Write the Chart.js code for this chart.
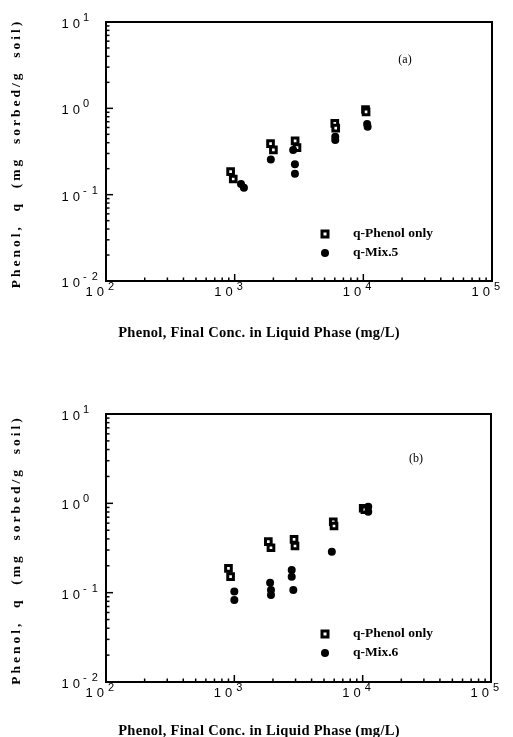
<!DOCTYPE html>
<html>
<head>
<meta charset="utf-8">
<script src="https://cdn.jsdelivr.net/npm/chart.js@4.4.1/dist/chart.umd.min.js"></script>
<style>
  html, body { margin: 0; padding: 0; background: #fff; }
  #wrap { position: relative; width: 513px; height: 737px; }
  canvas { position: absolute; left: 0; }
</style>
</head>
<body>
<div id="wrap">
  <canvas id="chartA" style="top:0px" width="513" height="368"></canvas>
  <canvas id="chartB" style="top:368px" width="513" height="369"></canvas>
</div>
<script>
// axis ticks (log decades) and their exponent labels
const xDecades = [100, 1000, 10000, 100000];
const xExpLabels = ['2', '3', '4', '5'];
const yDecades = [0.01, 0.1, 1, 10];
const yExpLabels = ['- 2', '- 1', '0', '1'];

const xTitle = 'Phenol, Final Conc. in Liquid Phase (mg/L)';
const yTitle = 'Phenol,  q  (mg  sorbed/g  soil)';

// panel (a)
const concA_phenol = [930, 975, 1900, 2000, 2950, 3050, 6000, 6100, 10400, 10500];
const qA_phenol = [0.185, 0.152, 0.39, 0.33, 0.42, 0.35, 0.67, 0.59, 0.97, 0.91];
const concA_mix = [1120, 1180, 1910, 2850, 2940, 2940, 6050, 6050, 10700, 10800];
const qA_mix = [0.133, 0.12, 0.255, 0.33, 0.225, 0.175, 0.47, 0.43, 0.66, 0.61];

// panel (b)
const concB_phenol = [900, 935, 1840, 1930, 2920, 2970, 5900, 5980, 10100, 10400];
const qB_phenol = [0.187, 0.151, 0.372, 0.318, 0.395, 0.333, 0.622, 0.557, 0.88, 0.85];
const concB_mix = [1000, 1000, 1900, 1930, 1930, 2800, 2800, 2880, 5750, 11050, 11050];
const qB_mix = [0.103, 0.083, 0.129, 0.107, 0.094, 0.179, 0.151, 0.107, 0.287, 0.917, 0.806];

const toPoints = (xs, ys) => xs.map((x, i) => ({ x: x, y: ys[i] }));

// frame, inward ticks, labels, titles and legend
const decorPlugin = {
  id: 'decor',
  afterDraw(chart, args, opts) {
    const ctx = chart.ctx;
    const a = chart.chartArea;
    const xs = chart.scales.x;
    const ys = chart.scales.y;
    ctx.save();
    ctx.strokeStyle = '#000';
    ctx.fillStyle = '#000';

    // frame
    ctx.lineWidth = 2;
    ctx.strokeRect(a.left, a.top, a.right - a.left, a.bottom - a.top);

    // minor/major ticks
    ctx.lineWidth = 1.5;
    for (let d = 0; d < xDecades.length - 1; d++) {
      for (let m = 1; m <= 9; m++) {
        const px = xs.getPixelForValue(m * xDecades[d]);
        const len = m === 1 ? 7 : 3.5;
        ctx.beginPath();
        ctx.moveTo(px, a.bottom);
        ctx.lineTo(px, a.bottom - len);
        ctx.stroke();
      }
    }
    for (let d = 0; d < yDecades.length - 1; d++) {
      for (let m = 1; m <= 9; m++) {
        const py = ys.getPixelForValue(m * yDecades[d]);
        const len = m === 1 ? 7 : 3.5;
        ctx.beginPath();
        ctx.moveTo(a.left, py);
        ctx.lineTo(a.left + len, py);
        ctx.stroke();
      }
    }

    // tick labels  10^n
    ctx.textBaseline = 'alphabetic';
    xDecades.forEach((v, i) => {
      const px = xs.getPixelForValue(v);
      ctx.font = '13px "Liberation Sans", Arial, sans-serif';
      ctx.letterSpacing = '4px';
      ctx.textAlign = 'right';
      ctx.fillText('10', px + 2, a.bottom + 15);
      ctx.font = '11px "Liberation Sans", Arial, sans-serif';
      ctx.letterSpacing = '0px';
      ctx.textAlign = 'left';
      ctx.fillText(xExpLabels[i], px + 2, a.bottom + 9);
    });
    yDecades.forEach((v, i) => {
      const py = ys.getPixelForValue(v);
      ctx.font = '13px "Liberation Sans", Arial, sans-serif';
      ctx.letterSpacing = '4px';
      ctx.textAlign = 'right';
      ctx.fillText('10', a.left - 22, py + 6);
      ctx.font = '11px "Liberation Sans", Arial, sans-serif';
      ctx.letterSpacing = '1px';
      ctx.textAlign = 'left';
      ctx.fillText(yExpLabels[i], a.left - 23, py - 1);
    });

    // axis titles
    ctx.font = 'bold 14.5px "Liberation Serif", "Times New Roman", serif';
    ctx.textAlign = 'center';
    ctx.textBaseline = 'middle';
    ctx.letterSpacing = '0.3px';
    ctx.fillText(xTitle, 259, opts.xTitleY);
    ctx.font = 'bold 13.5px "Liberation Serif", "Times New Roman", serif';
    ctx.save();
    ctx.translate(17, (a.top + a.bottom) / 2 + 2);
    ctx.rotate(-Math.PI / 2);
    ctx.letterSpacing = '3px';
    ctx.fillText(yTitle, 0, 0);
    ctx.restore();
    ctx.letterSpacing = '0px';

    // panel label
    ctx.font = '12px "Liberation Serif", "Times New Roman", serif';
    ctx.fillText(opts.panel, opts.panelX, opts.panelY);

    // legend
    const lx = 325;
    ctx.lineWidth = 3;
    ctx.fillStyle = '#fff';
    ctx.fillRect(lx - 3, opts.legendY - 3, 6, 6);
    ctx.strokeRect(lx - 3, opts.legendY - 3, 6, 6);
    ctx.fillStyle = '#000';
    ctx.beginPath();
    ctx.arc(lx, opts.legendY + 19, 4, 0, Math.PI * 2);
    ctx.fill();
    ctx.font = 'bold 13.5px "Liberation Serif", "Times New Roman", serif';
    ctx.textAlign = 'left';
    ctx.fillText(opts.labels[0], 353, opts.legendY);
    ctx.fillText(opts.labels[1], 353, opts.legendY + 19);
    ctx.restore();
  }
};

function makeChart(id, phenolX, phenolQ, mixX, mixQ, padding, decor) {
  return new Chart(document.getElementById(id), {
    type: 'scatter',
    data: {
      datasets: [
        {
          label: decor.labels[1],
          data: toPoints(mixX, mixQ),
          pointStyle: 'circle',
          pointRadius: 4,
          backgroundColor: '#000',
          borderColor: '#000',
          borderWidth: 0,
        },
        {
          label: decor.labels[0],
          data: toPoints(phenolX, phenolQ),
          pointStyle: 'rect',
          pointRadius: 4,
          backgroundColor: '#fff',
          borderColor: '#000',
          borderWidth: 3,
        },
      ],
    },
    options: {
      responsive: false,
      animation: false,
      layout: { padding: padding },
      scales: {
        x: { type: 'logarithmic', min: 100, max: 100000, display: false },
        y: { type: 'logarithmic', min: 0.01, max: 10, display: false },
      },
      plugins: {
        legend: { display: false },
        tooltip: { enabled: false },
        decor: decor,
      },
    },
    plugins: [decorPlugin],
  });
}

makeChart('chartA', concA_phenol, qA_phenol, concA_mix, qA_mix,
  { left: 106, right: 21, top: 22, bottom: 87 },
  { labels: ['q-Phenol only', 'q-Mix.5'], panel: '(a)', panelX: 405, panelY: 60, legendY: 234, xTitleY: 333 });

makeChart('chartB', concB_phenol, qB_phenol, concB_mix, qB_mix,
  { left: 106, right: 22, top: 46, bottom: 55 },
  { labels: ['q-Phenol only', 'q-Mix.6'], panel: '(b)', panelX: 416, panelY: 91, legendY: 266, xTitleY: 363 });
</script>
</body>
</html>
